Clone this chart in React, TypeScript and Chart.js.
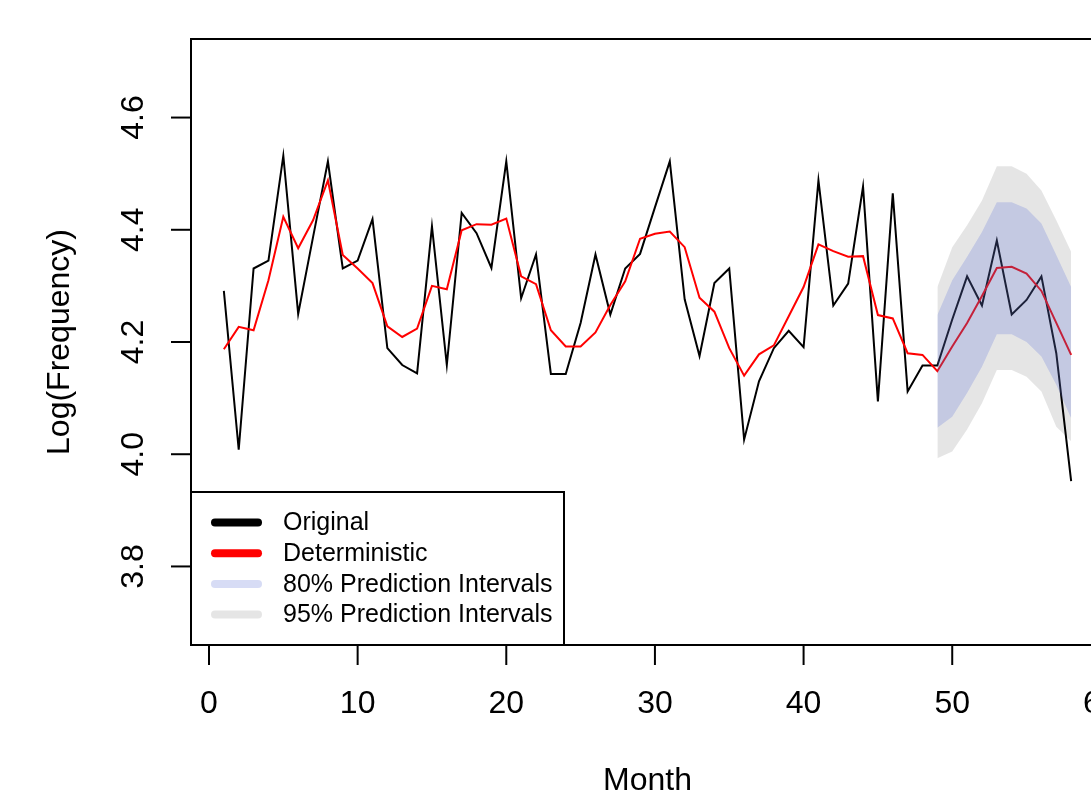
import React, { useEffect, useRef } from "react";
import { Chart, registerables } from "chart.js";

Chart.register(...registerables);

const months = [
  1, 2, 3, 4, 5, 6, 7, 8, 9, 10, 11, 12, 13, 14, 15, 16, 17, 18, 19, 20,
  21, 22, 23, 24, 25, 26, 27, 28, 29, 30, 31, 32, 33, 34, 35, 36, 37, 38, 39, 40,
  41, 42, 43, 44, 45, 46, 47, 48, 49, 50, 51, 52, 53, 54, 55, 56, 57, 58,
];

const original = [
  4.291, 4.008, 4.331, 4.345, 4.532, 4.25, 4.387, 4.522, 4.331, 4.345,
  4.419, 4.189, 4.159, 4.144, 4.406, 4.159, 4.43, 4.394, 4.332, 4.522,
  4.278, 4.356, 4.143, 4.143, 4.234, 4.356, 4.249, 4.331, 4.357, 4.44,
  4.522, 4.276, 4.175, 4.305, 4.331, 4.026, 4.13, 4.189, 4.22, 4.191,
  4.488, 4.265, 4.304, 4.477, 4.094, 4.465, 4.112, 4.158, 4.158, 4.24,
  4.317, 4.265, 4.381, 4.249, 4.275, 4.317, 4.18, 3.952,
];

const deterministic = [
  4.187, 4.227, 4.221, 4.31, 4.423, 4.367, 4.417, 4.488, 4.355, 4.331,
  4.305, 4.228, 4.209, 4.224, 4.3, 4.294, 4.399, 4.41, 4.409, 4.42,
  4.317, 4.303, 4.221, 4.192, 4.192, 4.217, 4.266, 4.308, 4.384, 4.393,
  4.397, 4.369, 4.279, 4.254, 4.189, 4.14, 4.178, 4.194, 4.246, 4.298,
  4.374, 4.362, 4.352, 4.353, 4.248, 4.242, 4.18, 4.177, 4.148, 4.192,
  4.234, 4.282, 4.332, 4.334, 4.322, 4.291, 4.234, 4.177,
];

const forecastMonths = [49, 50, 51, 52, 53, 54, 55, 56, 57, 58];
const upper95 = [4.298, 4.369, 4.408, 4.452, 4.513, 4.513, 4.5, 4.47, 4.417, 4.361];
const lower95 = [3.993, 4.005, 4.044, 4.091, 4.15, 4.15, 4.138, 4.112, 4.049, 4.023];
const upper80 = [4.248, 4.31, 4.352, 4.396, 4.449, 4.449, 4.438, 4.411, 4.355, 4.298];
const lower80 = [4.047, 4.067, 4.109, 4.156, 4.214, 4.214, 4.2, 4.174, 4.124, 4.064];

const xTicks = [0, 10, 20, 30, 40, 50, 60];
const yTicks = [3.8, 4.0, 4.2, 4.4, 4.6];
const yTickLabels = ["3.8", "4.0", "4.2", "4.4", "4.6"];
const xTitle = "Month";
const yTitle = "Log(Frequency)";
const legendLabels = [
  "Original",
  "Deterministic",
  "80% Prediction Intervals",
  "95% Prediction Intervals",
];

const BLACK = "#000000";
const RED = "#ff0000";
const BAND80 = "rgba(106,125,219,0.265)";
const BAND95 = "rgba(0,0,0,0.1)";
const legendColors = [BLACK, RED, BAND80, BAND95];

const FONT = '"Liberation Sans", Arial, Helvetica, sans-serif';

const pts = (xs: number[], ys: number[]) => xs.map((x, i) => ({ x, y: ys[i] }));

const rAxesPlugin = {
  id: "rAxes",
  afterDraw(chart: any) {
    const { ctx, chartArea } = chart;
    const xs = chart.scales.x;
    const ys = chart.scales.y;
    const { left, top, right, bottom } = chartArea;
    ctx.save();
    ctx.strokeStyle = "#000";
    ctx.fillStyle = "#000";
    ctx.lineWidth = 2;
    ctx.lineCap = "butt";
    ctx.strokeRect(left, top, right - left, bottom - top);

    ctx.font = `32px ${FONT}`;
    ctx.textAlign = "center";
    ctx.textBaseline = "middle";
    const x0 = xs.getPixelForValue(xTicks[0]);
    const x1 = xs.getPixelForValue(xTicks[xTicks.length - 1]);
    ctx.beginPath();
    ctx.moveTo(x0, bottom);
    ctx.lineTo(x1, bottom);
    ctx.stroke();
    xTicks.forEach((v) => {
      const px = xs.getPixelForValue(v);
      ctx.beginPath();
      ctx.moveTo(px, bottom);
      ctx.lineTo(px, bottom + 20);
      ctx.stroke();
      ctx.fillText(String(v), px, bottom + 59);
    });
    ctx.fillText(xTitle, (left + right) / 2, bottom + 136);

    const y0 = ys.getPixelForValue(yTicks[0]);
    const y1 = ys.getPixelForValue(yTicks[yTicks.length - 1]);
    ctx.beginPath();
    ctx.moveTo(left, y0);
    ctx.lineTo(left, y1);
    ctx.stroke();
    yTicks.forEach((v, i) => {
      const py = ys.getPixelForValue(v);
      ctx.beginPath();
      ctx.moveTo(left - 20, py);
      ctx.lineTo(left, py);
      ctx.stroke();
      ctx.save();
      ctx.translate(left - 57, py);
      ctx.rotate(-Math.PI / 2);
      ctx.fillText(yTickLabels[i], 0, 0);
      ctx.restore();
    });
    ctx.save();
    ctx.translate(left - 131, (top + bottom) / 2);
    ctx.rotate(-Math.PI / 2);
    ctx.fillText(yTitle, 0, 0);
    ctx.restore();

    const lx = left;
    const lw = 373;
    const lh = 153;
    const ly = bottom - lh;
    ctx.fillStyle = "#fff";
    ctx.fillRect(lx, ly, lw, lh);
    ctx.strokeStyle = "#000";
    ctx.lineWidth = 2;
    ctx.strokeRect(lx, ly, lw, lh);
    ctx.font = `25px ${FONT}`;
    ctx.textAlign = "left";
    ctx.textBaseline = "middle";
    legendLabels.forEach((label, i) => {
      const ry = ly + 30.5 + i * 30.7;
      ctx.strokeStyle = legendColors[i];
      ctx.lineWidth = 8;
      ctx.lineCap = "round";
      ctx.beginPath();
      ctx.moveTo(lx + 24, ry);
      ctx.lineTo(lx + 67, ry);
      ctx.stroke();
      ctx.fillStyle = "#000";
      ctx.fillText(label, lx + 92, ry + 1);
    });
    ctx.restore();
  },
};

export default function App() {
  const ref = useRef<HTMLCanvasElement | null>(null);

  useEffect(() => {
    if (!ref.current) return;
    const canvasW = 1120;
    const canvasH = 800;
    const chart = new Chart(ref.current, {
      type: "line",
      data: {
        datasets: [
          {
            label: "Original",
            data: pts(months, original),
            borderColor: BLACK,
            borderWidth: 2,
            pointRadius: 0,
            tension: 0,
            fill: false,
            order: 20,
          },
          {
            label: "Deterministic",
            data: pts(months, deterministic),
            borderColor: RED,
            borderWidth: 2,
            pointRadius: 0,
            tension: 0,
            fill: false,
            order: 19,
          },
          {
            label: "95% upper",
            data: pts(forecastMonths, upper95),
            borderWidth: 0,
            borderColor: "rgba(0,0,0,0)",
            backgroundColor: BAND95,
            pointRadius: 0,
            tension: 0,
            fill: "+1",
            order: 10,
          },
          {
            label: "95% lower",
            data: pts(forecastMonths, lower95),
            borderWidth: 0,
            borderColor: "rgba(0,0,0,0)",
            pointRadius: 0,
            tension: 0,
            fill: false,
            order: 11,
          },
          {
            label: "80% upper",
            data: pts(forecastMonths, upper80),
            borderWidth: 0,
            borderColor: "rgba(0,0,0,0)",
            backgroundColor: BAND80,
            pointRadius: 0,
            tension: 0,
            fill: "+1",
            order: 2,
          },
          {
            label: "80% lower",
            data: pts(forecastMonths, lower80),
            borderWidth: 0,
            borderColor: "rgba(0,0,0,0)",
            pointRadius: 0,
            tension: 0,
            fill: false,
            order: 3,
          },
        ],
      },
      options: {
        responsive: false,
        animation: false,
        maintainAspectRatio: false,
        layout: {
          padding: { left: 191, right: canvasW - 1104, top: 39, bottom: canvasH - 645 },
        },
        plugins: {
          legend: { display: false },
          tooltip: { enabled: false },
          title: { display: false },
        },
        scales: {
          x: { type: "linear", min: -1.21, max: 60.21, display: false },
          y: { type: "linear", min: 3.66, max: 4.74, display: false },
        },
      },
      plugins: [rAxesPlugin],
    });
    return () => chart.destroy();
  }, []);

  return (
    <div
      style={{
        position: "fixed",
        left: 0,
        top: 0,
        width: 1091,
        height: 800,
        overflow: "hidden",
        background: "#fff",
      }}
    >
      <canvas ref={ref} width={1120} height={800} style={{ width: 1120, height: 800, display: "block" }} />
    </div>
  );
}
